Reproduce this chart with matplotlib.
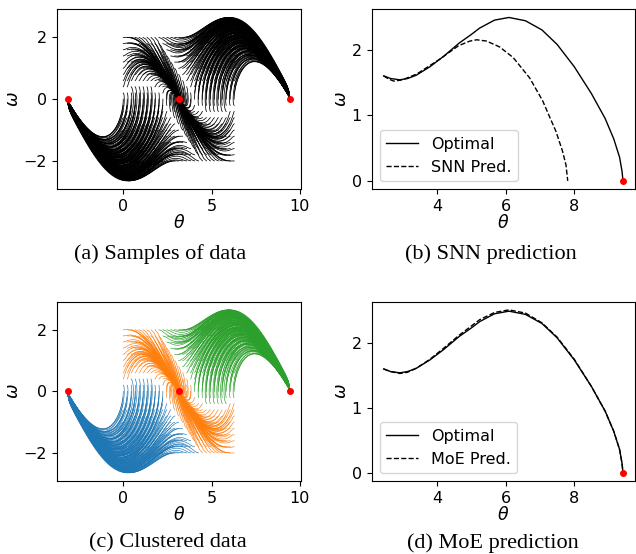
import numpy as np
import matplotlib
matplotlib.use('Agg')
import matplotlib.pyplot as plt

# start grid of the pendulum swing-up samples and the upright targets
theta0_grid = np.linspace(0, 2 * np.pi, 29)
omega0_grid = np.linspace(-2, 2, 21)
targets = [-np.pi, np.pi, 3 * np.pi]
cluster_colors = ['tab:blue', 'tab:orange', 'tab:green']

# cluster borders: below blue_top -> -pi, above green_low -> 3pi
blue_top_theta = [0.0, 1.0, 2.0, 2.5, 4.35]
blue_top_omega = [0.3, 0.6, 0.3, -0.3, -2.0]
green_low_theta = [1.93, 3.78, 4.28, 5.28, 6.28]
green_low_omega = [2.0, 0.3, -0.3, -0.6, -0.3]

g_over_l = 1.25
horizon = 4.8
n_steps = 60

# test trajectory, (b) and (d)
opt_theta = [2.45, 2.65, 2.92, 3.15, 3.40, 3.80, 4.20, 4.65, 5.00, 5.25, 5.68,
             6.10, 6.58, 7.06, 7.50, 8.00, 8.50, 8.90, 9.15, 9.32, 9.39, 9.42]
opt_omega = [1.60, 1.56, 1.54, 1.56, 1.61, 1.74, 1.90, 2.10, 2.23, 2.33, 2.45,
             2.49, 2.44, 2.30, 2.08, 1.74, 1.33, 0.95, 0.64, 0.36, 0.15, 0.0]
snn_theta = [2.45, 2.60, 2.75, 3.00, 3.42, 4.10, 4.63, 4.96, 5.16, 5.45, 5.83,
             6.22, 6.70, 7.08, 7.47, 7.66, 7.76, 7.81]
snn_omega = [1.60, 1.55, 1.52, 1.54, 1.63, 1.86, 2.06, 2.13, 2.15, 2.13, 2.04,
             1.88, 1.57, 1.22, 0.75, 0.45, 0.24, 0.0]
moe_omega = [1.60, 1.56, 1.53, 1.55, 1.61, 1.75, 1.92, 2.12, 2.26, 2.36, 2.47,
             2.51, 2.46, 2.31, 2.09, 1.75, 1.33, 0.95, 0.64, 0.36, 0.15, 0.0]


def min_effort_paths(th0, w0, th_end, a=g_over_l, T=horizon, N=n_steps, iters=25):
    # fixed-horizon minimum-effort swing-up, Gauss-Newton on theta_k
    dt = T / N
    M = th0.size
    s = np.linspace(0, 1, N + 1)
    h00 = 2 * s**3 - 3 * s**2 + 1
    h10 = s**3 - 2 * s**2 + s
    h01 = -2 * s**3 + 3 * s**2
    th = np.outer(th0, h00) + np.outer(w0 * T, h10) + np.outer(th_end, h01)
    th[:, 1] = th0 + w0 * dt
    th[:, N - 1] = th_end
    th[:, N] = th_end

    def resid(x):
        return x[:, 2:] - 2 * x[:, 1:-1] + x[:, :-2] + dt**2 * a * np.sin(x[:, 1:-1])

    nv = N - 3
    idx = np.arange(nv)
    for _ in range(iters):
        r = resid(th)
        J = np.zeros((M, N - 1, nv))
        J[:, idx, idx] = 1.0
        J[:, idx + 1, idx] = -2.0 + dt**2 * a * np.cos(th[:, 2:N - 1])
        J[:, idx + 2, idx] = 1.0
        Jt = J.transpose(0, 2, 1)
        H = Jt @ J + 1e-6 * np.eye(nv)
        step = -np.linalg.solve(H, Jt @ r[:, :, None])[:, :, 0]
        best = th.copy()
        best_cost = (r**2).sum(1)
        for alpha in (1.0, 0.5, 0.25, 0.1):
            trial = th.copy()
            trial[:, 2:N - 1] += alpha * step
            c = (resid(trial)**2).sum(1)
            ok = c < best_cost
            best[ok] = trial[ok]
            best_cost[ok] = c[ok]
        th = best
    om = np.empty_like(th)
    om[:, 0] = w0
    om[:, 1:-1] = (th[:, 2:] - th[:, :-2]) / (2 * dt)
    om[:, -1] = 0.0
    return th, om


T0, W0 = np.meshgrid(theta0_grid, omega0_grid)
T0 = T0.ravel()
W0 = W0.ravel()
label = np.ones(T0.size, dtype=int)
label[W0 < np.interp(T0, blue_top_theta, blue_top_omega)] = 0
label[W0 > np.interp(T0, green_low_theta, green_low_omega)] = 2

fig = plt.figure(figsize=(6.36, 5.54), dpi=100)
ax_a = fig.add_axes([0.0892, 0.6588, 0.3836, 0.3244])
ax_b = fig.add_axes([0.5844, 0.6588, 0.4140, 0.3244])
ax_c = fig.add_axes([0.0892, 0.1318, 0.3836, 0.3236])
ax_d = fig.add_axes([0.5844, 0.1318, 0.4140, 0.3236])

fs = 11.5
for k in range(3):
    sel = label == k
    th, om = min_effort_paths(T0[sel], W0[sel], np.full(sel.sum(), targets[k]))
    ax_a.plot(th.T, om.T, color='black', lw=0.55)
    ax_c.plot(th.T, om.T, color=cluster_colors[k], lw=0.45)

for ax in (ax_a, ax_c):
    ax.plot(targets, [0, 0, 0], 'o', color='red', ms=4, zorder=5)
    ax.set_xticks([0, 5, 10])
    ax.set_yticks([-2, 0, 2])

ax_b.plot(opt_theta, opt_omega, color='black', lw=1, label='Optimal')
ax_b.plot(snn_theta, snn_omega, color='black', lw=1, ls='--', label='SNN Pred.')
ax_d.plot(opt_theta, opt_omega, color='black', lw=1, label='Optimal')
ax_d.plot(opt_theta, moe_omega, color='black', lw=1, ls='--', label='MoE Pred.')
for ax in (ax_b, ax_d):
    ax.plot([opt_theta[-1]], [0], 'o', color='red', ms=4, zorder=5)
    ax.set_xticks([4, 6, 8])
    ax.set_yticks([0, 1, 2])
    ax.legend(loc='lower left', fontsize=fs)

for ax in (ax_a, ax_b, ax_c, ax_d):
    ax.tick_params(labelsize=fs)
    ax.set_xlabel(r'$\theta$', fontsize=fs + 1, labelpad=0)
    ax.set_ylabel(r'$\omega$', fontsize=fs + 1, labelpad=1)

cap = dict(fontsize=16, family='Liberation Serif', ha='center', va='center')
fig.text(160 / 636, 1 - 254 / 554, '(a) Samples of data', **cap)
fig.text(491 / 636, 1 - 254 / 554, '(b) SNN prediction', **cap)
fig.text(168 / 636, 1 - 543 / 554, '(c) Clustered data', **cap)
fig.text(493 / 636, 1 - 543 / 554, '(d) MoE prediction', **cap)

fig.savefig('out.png', dpi=100)
